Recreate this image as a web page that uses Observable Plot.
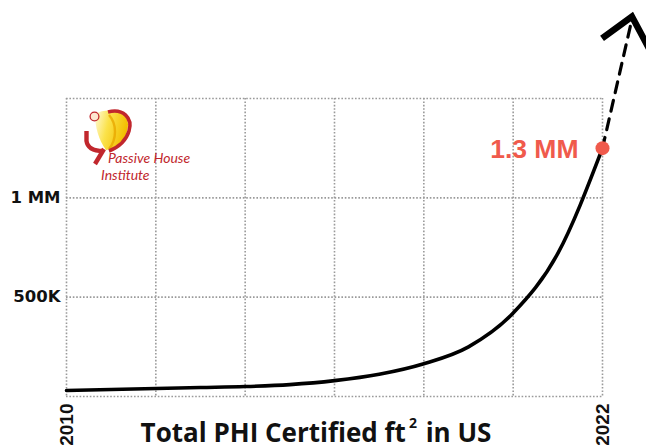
<!DOCTYPE html>
<html>
<head>
<meta charset="utf-8">
<script src="https://cdn.jsdelivr.net/npm/d3@7"></script>
<script src="https://cdn.jsdelivr.net/npm/@observablehq/plot@0.6"></script>
<style>
  body { margin: 0; background: #fff; }
  #wrap { position: relative; width: 646px; height: 445px; overflow: hidden; background: #fff; }
  #title { position: absolute; left: 0; width: 632px; top: 415px; text-align: center;
           font: 700 26px "Open Sans", sans-serif; line-height: 34px; color: #111; white-space: nowrap; }
  #title sup { font-size: 14px; vertical-align: 0; position: relative; top: -14px; margin-left: 3px; margin-right: 2px; }
  #logo { position: absolute; left: 0; top: 0; pointer-events: none; }
</style>
</head>
<body>
<div id="wrap"></div>
<script>
// ---- data ----
const years = [2010, 2011, 2012, 2013, 2014, 2015, 2016, 2017, 2018, 2019, 2020, 2021, 2022];
const sqft  = [30000, 35000, 40000, 45000, 50000, 60000, 80000, 112000, 165000, 250000, 420000, 720000, 1250000];
const projYears  = [2022, 2022.67];
const projValues = [1250000, 1910000];
const xTicks = [2010, 2022];
const xGrid = [2010, 2012, 2014, 2016, 2018, 2020, 2022];
const yTicks = [500000, 1000000];
const yTickLabels = ["500K", "1 MM"];
const yGrid = [0, 500000, 1000000, 1500000];
const calloutYear = 2022;
const calloutValue = 1250000;
const calloutLabel = "1.3 MM";
const titleText = ["Total PHI Certified ft", "2", " in US"];

const series = years.map((y, i) => ({year: y, value: sqft[i]}));
const projection = projYears.map((y, i) => ({year: y, value: projValues[i]}));
const callout = [{year: calloutYear, value: calloutValue, label: calloutLabel}];

// arrow head at the tip of the projection, placed through the plot scales
function chevron(index, scales) {
  const x1 = scales.x(projYears[0]), y1 = scales.y(projValues[0]);
  const x2 = scales.x(projYears[1]), y2 = scales.y(projValues[1]);
  const a = Math.atan2(y1 - y2, x1 - x2);
  const L = 37, h = 41 * Math.PI / 180;
  const p = d3.path();
  p.moveTo(x2 + L * Math.cos(a - h), y2 + L * Math.sin(a - h));
  p.lineTo(x2, y2);
  p.lineTo(x2 + L * Math.cos(a + h), y2 + L * Math.sin(a + h));
  const el = document.createElementNS("http://www.w3.org/2000/svg", "path");
  el.setAttribute("d", p.toString());
  el.setAttribute("fill", "none");
  el.setAttribute("stroke", "#000");
  el.setAttribute("stroke-width", 6.5);
  el.setAttribute("stroke-linejoin", "miter");
  return el;
}

const gridStyle = {stroke: "#9a9a9a", strokeOpacity: 1, strokeWidth: 1.6, strokeDasharray: "1.6,1.8"};

const chart = Plot.plot({
  width: 646,
  height: 445,
  marginTop: 98,
  marginBottom: 49,
  marginLeft: 66,
  marginRight: 44,
  style: {background: "#fff", overflow: "visible"},
  x: {domain: [2010, 2022]},
  y: {domain: [0, 1500000]},
  marks: [
    Plot.gridX(xGrid, gridStyle),
    Plot.gridY(yGrid, gridStyle),
    Plot.axisY({ticks: yTicks, tickFormat: d => yTickLabels[yTicks.indexOf(d)], tickSize: 0, tickPadding: 6,
                label: null, fontSize: 16.5, fontWeight: 700, fontFamily: "DejaVu Sans", fill: "#111"}),
    Plot.axisX({ticks: xTicks, tickFormat: d => String(d), tickSize: 0, tickPadding: 7, tickRotate: -90,
                label: null, fontSize: 19, fontWeight: 700, fontFamily: "Liberation Sans", fill: "#111"}),
    Plot.line(series, {x: "year", y: "value", curve: "monotone-x", stroke: "#000", strokeWidth: 3.6}),
    Plot.line(projection, {x: "year", y: "value", stroke: "#000", strokeWidth: 3.2, strokeDasharray: "11,8"}),
    chevron,
    Plot.dot(callout, {x: "year", y: "value", r: 7, fill: "#f05a4c", stroke: "none"}),
    Plot.text(callout, {x: "year", y: "value", text: "label", textAnchor: "end", dx: -24, dy: 1,
                        fontSize: 26.5, fontWeight: 700, fontFamily: "Liberation Sans", fill: "#f05a4c"})
  ]
});

const wrap = document.getElementById("wrap");
wrap.appendChild(chart);

const title = document.createElement("div");
title.id = "title";
title.append(titleText[0]);
const sup = document.createElement("sup");
sup.textContent = titleText[1];
title.append(sup, titleText[2]);
wrap.appendChild(title);

// Passive House Institute logo (decoration)
wrap.insertAdjacentHTML("beforeend", `
<svg id="logo" width="646" height="445" viewBox="0 0 646 445">
  <defs>
    <linearGradient id="lg" x1="0" y1="0" x2="1" y2="0.3">
      <stop offset="0" stop-color="#fffbe0"/>
      <stop offset="0.45" stop-color="#fbe24a"/>
      <stop offset="1" stop-color="#f2be00"/>
    </linearGradient>
  </defs>
  <path d="M95,114 C108,107 128,111 128,124 C128,137 119,148 106,150 C99,140 95,128 95,114 Z" fill="url(#lg)"/>
  <path d="M109,115 C117,124 117,139 109,149" fill="none" stroke="#e8a800" stroke-width="2.4" opacity="0.8"/>
  <path d="M108,112 C123,108 133,118 129,131 C126,141 119,147 109,151" fill="none" stroke="#c1272d" stroke-width="3.6"/>
  <circle cx="94.5" cy="116.5" r="4.4" fill="#fde6cf" stroke="#c1272d" stroke-width="1.3"/>
  <path d="M86.5,131 L86.5,141 Q88,151 103,151" fill="none" stroke="#c1272d" stroke-width="4.4"/>
  <path d="M104,149 L95,164" fill="none" stroke="#c1272d" stroke-width="4.4"/>
  <text x="108" y="163" font-family="Lato" font-style="italic" font-size="14" fill="#c1272d">Passive House</text>
  <text x="101" y="180" font-family="Lato" font-style="italic" font-size="14" fill="#c1272d">Institute</text>
</svg>`);
</script>
</body>
</html>
